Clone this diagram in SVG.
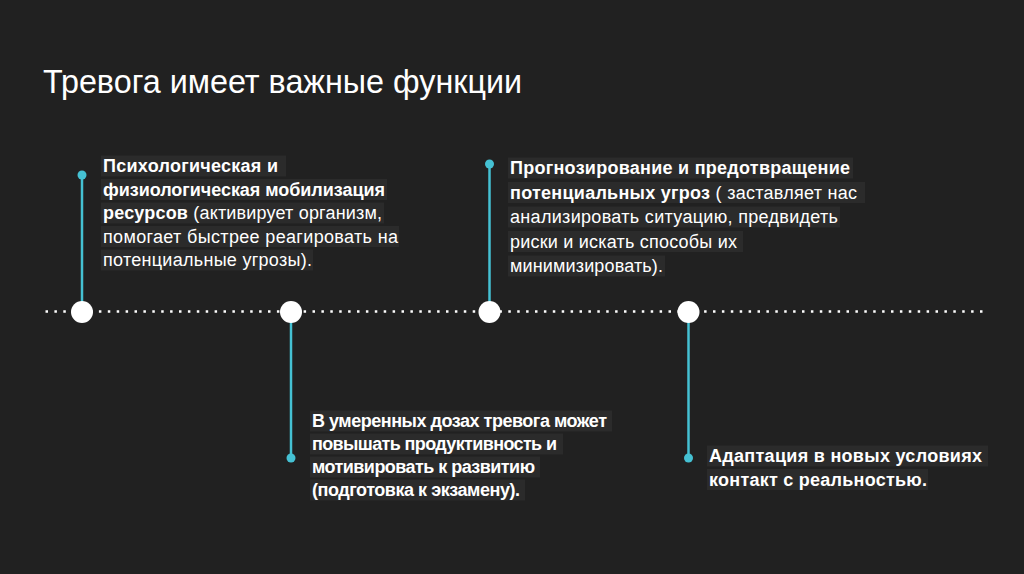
<svg xmlns="http://www.w3.org/2000/svg" width="1024" height="574" viewBox="0 0 1024 574">
  <style>
    .bg { fill: #212121; }
    .title { font-family: "Liberation Sans", Arial, sans-serif; font-size: 33px; fill: #ffffff; }
    .t { font-family: "Liberation Sans", Arial, sans-serif; font-size: 18px; fill: #ffffff; }
    .b { font-weight: bold; }
    .hl { fill: #2b2b2b; }
    .stem { stroke: #45c1d3; stroke-width: 2.5; fill: none; }
    .tip { fill: #45c1d3; }
    .node { fill: #ffffff; }
  </style>
  <rect class="bg" x="0" y="0" width="1024" height="574"/>
  <text class="title" x="43" y="93" textLength="479" lengthAdjust="spacingAndGlyphs">Тревога имеет важные функции</text>

  <g id="connectors">
    <line x1="45.5" y1="311.5" x2="984" y2="311.5" stroke="#ffffff" stroke-width="2.5" stroke-dasharray="2.5 6.4"/>
    <line class="stem" x1="82" y1="175" x2="82" y2="312"/>
    <line class="stem" x1="489.5" y1="164" x2="489.5" y2="312"/>
    <line class="stem" x1="291" y1="312" x2="291" y2="458"/>
    <line class="stem" x1="688.5" y1="312" x2="688.5" y2="458"/>
  </g>

  <g id="node1">
    <circle class="node" cx="82" cy="312" r="11"/>
    <circle class="tip" cx="82" cy="175" r="4.5"/>
    <rect class="hl" x="101" y="155.5" width="185" height="21"/>
    <rect class="hl" x="101" y="179" width="286" height="21"/>
    <rect class="hl" x="101" y="202.5" width="283" height="21"/>
    <rect class="hl" x="101" y="226" width="298" height="21"/>
    <rect class="hl" x="101" y="249.5" width="212" height="21"/>
    <text class="t" x="103" y="172" textLength="175"><tspan class="b">Психологическая и</tspan></text>
    <text class="t" x="103" y="195.5" textLength="282"><tspan class="b">физиологическая мобилизация</tspan></text>
    <text class="t" x="103" y="219" textLength="279"><tspan class="b">ресурсов</tspan> (активирует организм,</text>
    <text class="t" x="103" y="242.5" textLength="295">помогает быстрее реагировать на</text>
    <text class="t" x="103" y="266" textLength="209">потенциальные угрозы).</text>
  </g>

  <g id="node2">
    <circle class="node" cx="291" cy="312" r="11"/>
    <circle class="tip" cx="291" cy="458" r="4.5"/>
    <rect class="hl" x="310" y="410.5" width="302" height="21"/>
    <rect class="hl" x="310" y="433.5" width="253" height="21"/>
    <rect class="hl" x="310" y="456.5" width="230" height="21"/>
    <rect class="hl" x="310" y="479.5" width="215" height="21"/>
    <text class="t b" x="312" y="427" textLength="295">В умеренных дозах тревога может</text>
    <text class="t b" x="312" y="450" textLength="245">повышать продуктивность и</text>
    <text class="t b" x="312" y="473" textLength="223">мотивировать к развитию</text>
    <text class="t b" x="312" y="496" textLength="208">(подготовка к экзамену).</text>
  </g>

  <g id="node3">
    <circle class="node" cx="489.5" cy="312" r="11"/>
    <circle class="tip" cx="489.5" cy="164" r="4.5"/>
    <rect class="hl" x="508" y="157.5" width="345" height="21"/>
    <rect class="hl" x="508" y="182" width="357" height="21"/>
    <rect class="hl" x="508" y="206.5" width="332" height="21"/>
    <rect class="hl" x="508" y="231" width="235" height="21"/>
    <rect class="hl" x="508" y="255.5" width="157" height="21"/>
    <text class="t" x="510" y="174" textLength="340"><tspan class="b">Прогнозирование и предотвращение</tspan></text>
    <text class="t" x="510" y="198.5" textLength="347"><tspan class="b">потенциальных угроз</tspan> ( заставляет нас</text>
    <text class="t" x="510" y="223" textLength="328">анализировать ситуацию, предвидеть</text>
    <text class="t" x="510" y="247.5" textLength="227">риски и искать способы их</text>
    <text class="t" x="510" y="272" textLength="153">минимизировать).</text>
  </g>

  <g id="node4">
    <circle class="node" cx="688.5" cy="312" r="11"/>
    <circle class="tip" cx="688.5" cy="458" r="4.5"/>
    <rect class="hl" x="707" y="445.5" width="281" height="21"/>
    <rect class="hl" x="707" y="469" width="221" height="21"/>
    <text class="t b" x="709" y="462" textLength="273">Адаптация в новых условиях</text>
    <text class="t b" x="709" y="485.5" textLength="218">контакт с реальностью.</text>
  </g>
</svg>
